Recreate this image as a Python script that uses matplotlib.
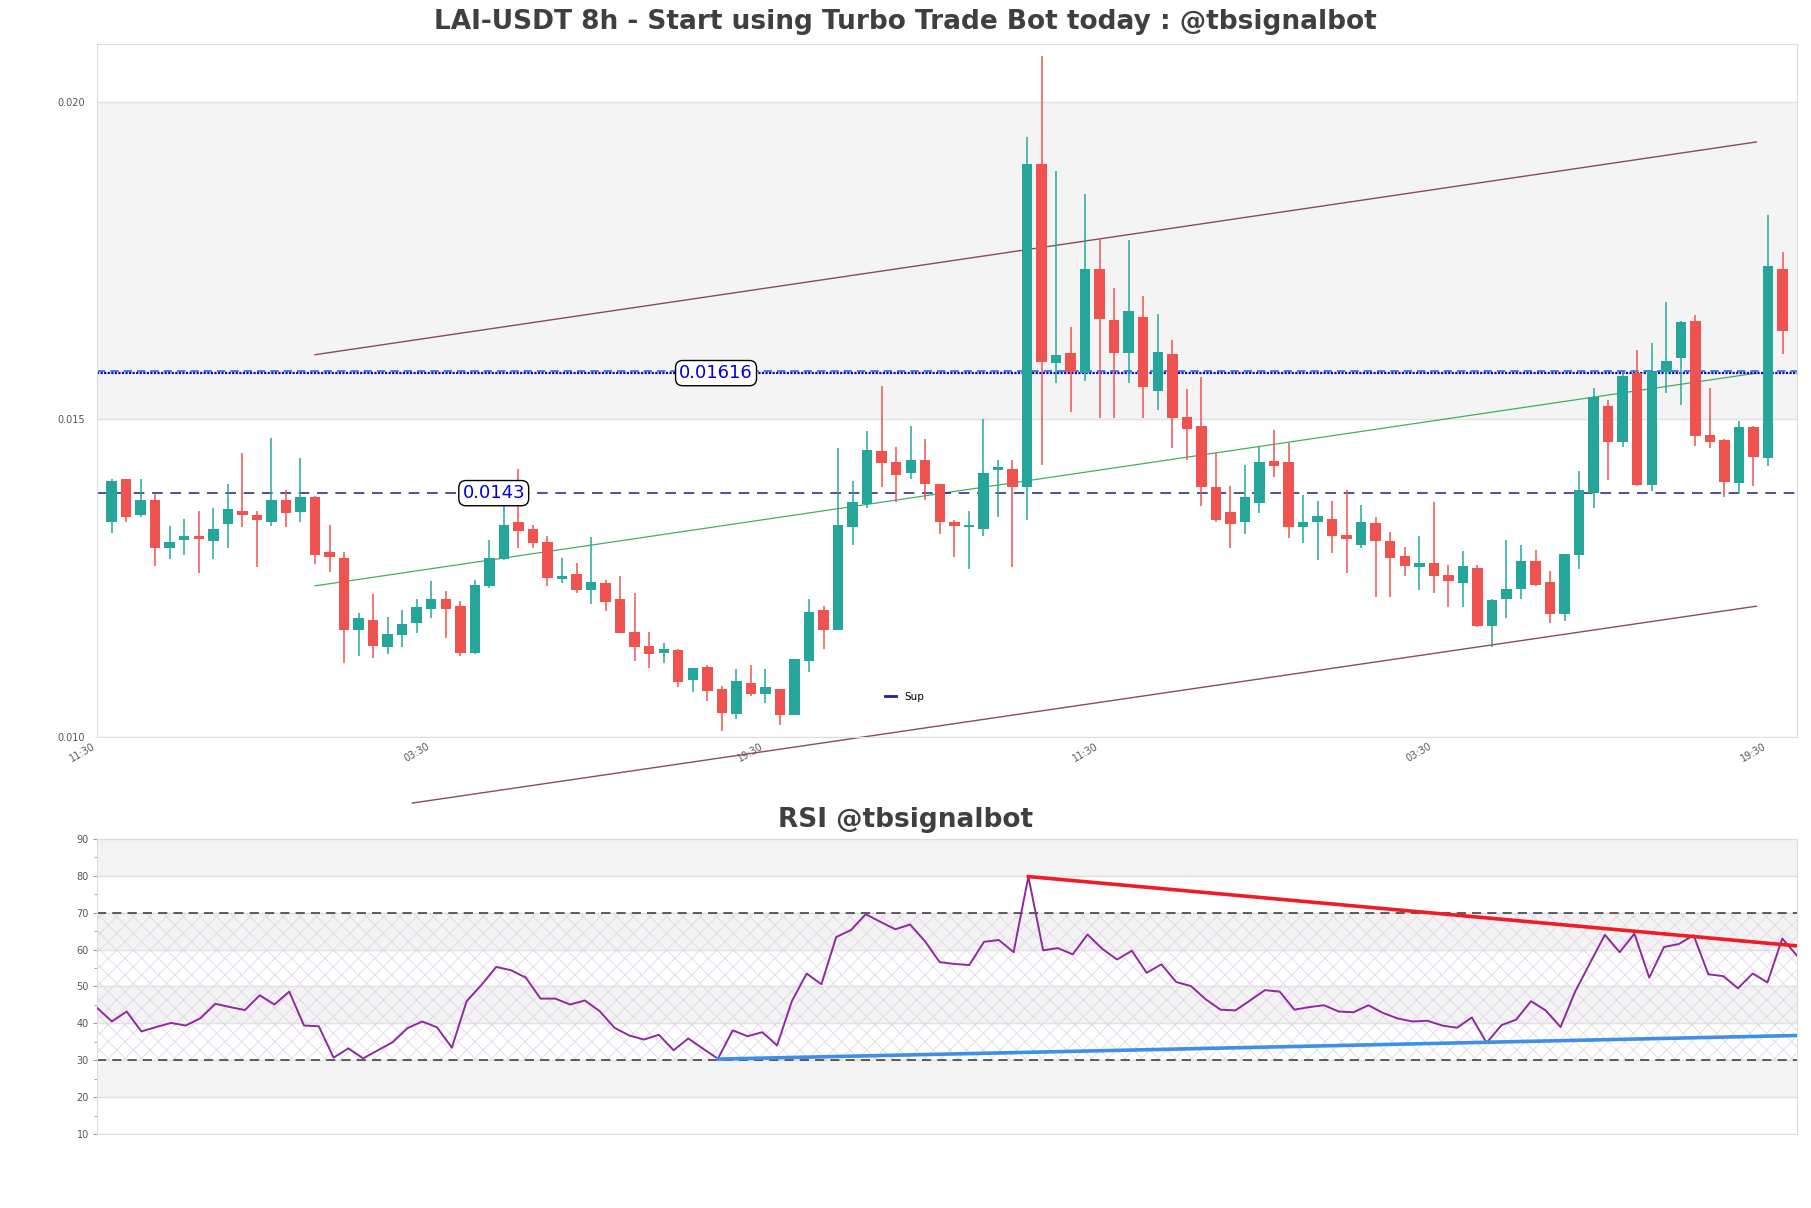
import matplotlib
matplotlib.use("Agg")
import matplotlib.pyplot as plt
import numpy as np

# LAI-USDT 8h candles
opens = [0.01339, 0.01406, 0.01350, 0.01373, 0.01298, 0.01311, 0.01315, 0.01309, 0.01336, 0.01356,
         0.01350, 0.01339, 0.01373, 0.01355, 0.01378, 0.01291, 0.01282, 0.01169, 0.01184, 0.01141,
         0.01161, 0.01180, 0.01202, 0.01217, 0.01206, 0.01133, 0.01238, 0.01281, 0.01339, 0.01328,
         0.01307, 0.01249, 0.01257, 0.01232, 0.01242, 0.01217, 0.01165, 0.01143, 0.01132, 0.01137,
         0.01090, 0.01110, 0.01076, 0.01037, 0.01085, 0.01067, 0.01076, 0.01035, 0.01120, 0.01200,
         0.01169, 0.01330, 0.01367, 0.01450, 0.01433, 0.01416, 0.01436, 0.01398, 0.01339, 0.01330,
         0.01328, 0.01421, 0.01422, 0.01394, 0.01902, 0.01589, 0.01605, 0.01573, 0.01737, 0.01657,
         0.01605, 0.01661, 0.01545, 0.01603, 0.01504, 0.01490, 0.01394, 0.01354, 0.01339, 0.01369,
         0.01434, 0.01433, 0.01331, 0.01339, 0.01343, 0.01318, 0.01303, 0.01337, 0.01309, 0.01285,
         0.01268, 0.01274, 0.01255, 0.01243, 0.01266, 0.01175, 0.01217, 0.01233, 0.01277, 0.01244,
         0.01193, 0.01287, 0.01385, 0.01521, 0.01464, 0.01573, 0.01397, 0.01575, 0.01597, 0.01655,
         0.01476, 0.01468, 0.01400, 0.01488, 0.01440, 0.01737]
highs = [0.01407, 0.01406, 0.01406, 0.01384, 0.01332, 0.01343, 0.01356, 0.01361, 0.01398, 0.01447,
         0.01356, 0.01471, 0.01389, 0.01439, 0.01380, 0.01334, 0.01292, 0.01196, 0.01225, 0.01189,
         0.01200, 0.01217, 0.01246, 0.01230, 0.01214, 0.01247, 0.01310, 0.01373, 0.01422, 0.01334,
         0.01316, 0.01282, 0.01274, 0.01315, 0.01247, 0.01254, 0.01227, 0.01165, 0.01148, 0.01139,
         0.01109, 0.01114, 0.01081, 0.01107, 0.01113, 0.01107, 0.01076, 0.01123, 0.01217, 0.01206,
         0.01455, 0.01403, 0.01482, 0.01552, 0.01457, 0.01490, 0.01469, 0.01398, 0.01342, 0.01356,
         0.01500, 0.01436, 0.01436, 0.01945, 0.02073, 0.01892, 0.01646, 0.01855, 0.01784, 0.01707,
         0.01783, 0.01695, 0.01666, 0.01625, 0.01548, 0.01567, 0.01447, 0.01395, 0.01428, 0.01456,
         0.01484, 0.01463, 0.01381, 0.01372, 0.01372, 0.01389, 0.01365, 0.01347, 0.01323, 0.01299,
         0.01317, 0.01370, 0.01271, 0.01293, 0.01271, 0.01217, 0.01310, 0.01302, 0.01295, 0.01261,
         0.01288, 0.01419, 0.01550, 0.01531, 0.01575, 0.01609, 0.01620, 0.01685, 0.01655, 0.01665,
         0.01550, 0.01470, 0.01498, 0.01490, 0.01822, 0.01764]
lows = [0.01321, 0.01339, 0.01347, 0.01270, 0.01281, 0.01287, 0.01259, 0.01281, 0.01298, 0.01330,
        0.01268, 0.01333, 0.01331, 0.01339, 0.01273, 0.01260, 0.01116, 0.01127, 0.01125, 0.01130,
        0.01142, 0.01164, 0.01187, 0.01156, 0.01128, 0.01130, 0.01235, 0.01279, 0.01297, 0.01298,
        0.01238, 0.01242, 0.01226, 0.01210, 0.01199, 0.01164, 0.01120, 0.01109, 0.01117, 0.01079,
        0.01071, 0.01056, 0.01010, 0.01029, 0.01064, 0.01054, 0.01019, 0.01035, 0.01103, 0.01139,
        0.01169, 0.01303, 0.01361, 0.01394, 0.01370, 0.01406, 0.01373, 0.01319, 0.01284, 0.01265,
        0.01317, 0.01346, 0.01268, 0.01342, 0.01429, 0.01558, 0.01512, 0.01561, 0.01502, 0.01502,
        0.01558, 0.01502, 0.01515, 0.01455, 0.01436, 0.01364, 0.01339, 0.01297, 0.01320, 0.01353,
        0.01410, 0.01314, 0.01306, 0.01279, 0.01290, 0.01259, 0.01298, 0.01221, 0.01221, 0.01253,
        0.01232, 0.01226, 0.01205, 0.01205, 0.01174, 0.01141, 0.01188, 0.01217, 0.01237, 0.01179,
        0.01183, 0.01265, 0.01361, 0.01405, 0.01457, 0.01395, 0.01388, 0.01542, 0.01523, 0.01458,
        0.01455, 0.01378, 0.01384, 0.01396, 0.01427, 0.01603]
closes = [0.01403, 0.01347, 0.01373, 0.01298, 0.01307, 0.01317, 0.01312, 0.01328, 0.01359, 0.01349,
          0.01341, 0.01373, 0.01352, 0.01378, 0.01286, 0.01284, 0.01169, 0.01187, 0.01144, 0.01162,
          0.01178, 0.01205, 0.01217, 0.01201, 0.01133, 0.01240, 0.01282, 0.01334, 0.01325, 0.01306,
          0.01251, 0.01253, 0.01232, 0.01244, 0.01213, 0.01164, 0.01142, 0.01130, 0.01138, 0.01086,
          0.01109, 0.01073, 0.01038, 0.01088, 0.01068, 0.01078, 0.01034, 0.01123, 0.01197, 0.01168,
          0.01334, 0.01370, 0.01452, 0.01431, 0.01413, 0.01436, 0.01399, 0.01339, 0.01333, 0.01334,
          0.01416, 0.01422, 0.01393, 0.01902, 0.01591, 0.01602, 0.01575, 0.01737, 0.01658, 0.01605,
          0.01671, 0.01551, 0.01606, 0.01503, 0.01485, 0.01394, 0.01341, 0.01336, 0.01378, 0.01433,
          0.01427, 0.01330, 0.01338, 0.01348, 0.01317, 0.01312, 0.01339, 0.01308, 0.01282, 0.01270,
          0.01274, 0.01254, 0.01246, 0.01270, 0.01175, 0.01216, 0.01233, 0.01277, 0.01240, 0.01193,
          0.01288, 0.01389, 0.01535, 0.01464, 0.01569, 0.01397, 0.01576, 0.01592, 0.01654, 0.01474,
          0.01465, 0.01402, 0.01488, 0.01441, 0.01742, 0.01639]

rsi = [44.2, 40.5, 43.2, 37.8, 39.0, 40.1, 39.4, 41.4, 45.3, 44.4,
       43.6, 47.6, 45.1, 48.6, 39.4, 39.2, 30.7, 33.2, 30.5, 32.7,
       34.9, 38.7, 40.5, 38.9, 33.4, 46.0, 50.4, 55.3, 54.4, 52.4,
       46.7, 46.7, 45.1, 46.2, 43.3, 38.8, 36.7, 35.6, 36.9, 32.7,
       35.9, 33.1, 30.4, 38.1, 36.5, 37.6, 34.0, 46.0, 53.5, 50.6,
       63.4, 65.3, 69.6, 67.5, 65.5, 66.8, 62.3, 56.6, 56.1, 55.8,
       62.1, 62.6, 59.3, 79.8, 59.8, 60.4, 58.7, 64.1, 60.2, 57.3,
       59.7, 53.7, 56.0, 51.2, 50.1, 46.5, 43.7, 43.5, 46.2, 49.0,
       48.6, 43.7, 44.4, 44.9, 43.2, 43.0, 44.9, 42.8, 41.3, 40.5,
       40.7, 39.4, 38.8, 41.6, 34.7, 39.5, 41.0, 46.0, 43.5, 39.0,
       48.7, 56.4, 64.0, 59.3, 64.3, 52.4, 60.7, 61.5, 63.9, 53.3,
       52.8, 49.5, 53.5, 51.1, 63.0, 58.3]

tick_pos = [-1, 22, 45, 68, 91, 114]
tick_labels = ["11:30", "03:30", "19:30", "11:30", "03:30", "19:30"]

# channel lines (x in candle index, y in price)
chan_up_x = [14, 113.2]
chan_up_y = [0.01602, 0.01937]
chan_mid_x = [14, 113.2]
chan_mid_y = [0.01238, 0.01573]
chan_low_x = [20.7, 113.2]
chan_low_y = [0.00896, 0.01206]

res_level = 0.01573
sup_level = 0.01384

# rsi trend lines
rsi_res_x = [63, 115]
rsi_res_y = [79.8, 61.0]
rsi_sup_x = [42, 115]
rsi_sup_y = [30.3, 36.7]

GREEN = "#26a69a"
RED = "#ef5350"
TXT = "#555555"
SPINE = "#dddddd"

fig = plt.figure(figsize=(18.11, 12.08), dpi=100)
ax = fig.add_axes([0.0536, 0.3899, 0.9387, 0.5737])
ax2 = fig.add_axes([0.0536, 0.0613, 0.9387, 0.2442])

x = np.arange(len(opens))
o = np.array(opens)
c = np.array(closes)
h = np.array(highs)
l = np.array(lows)
up = c >= o
cols = np.where(up, GREEN, RED)

ax.axhspan(0.015, 0.020, color="#f4f4f4", zorder=0)
for yv in [0.010, 0.015, 0.020]:
    ax.axhline(yv, color="#e2e2e2", lw=1, zorder=0.5)

ax.vlines(x, l, h, colors=cols, lw=1.1, zorder=3)
body_b = np.minimum(o, c)
body_h = np.maximum(np.abs(c - o), 0.00004)
ax.bar(x, body_h, bottom=body_b, width=0.72, color=cols, zorder=4)

ax.plot(chan_up_x, chan_up_y, color="#8a4a5c", lw=1, zorder=2)
ax.plot(chan_mid_x, chan_mid_y, color="#45ad62", lw=0.9, zorder=2)
ax.plot(chan_low_x, chan_low_y, color="#8a4a5c", lw=1, zorder=2, clip_on=False)

ax.axhline(res_level + 0.00004, color="#2a6cf0", lw=1.2, ls=(0, (5, 3)), zorder=2)
ax.axhline(res_level, color="#0a0ab0", lw=1.6, ls=(0, (1, 0.6)), zorder=2)
ax.axhline(sup_level, color="#1c1c96", lw=1.1, ls=(0, (7, 5)), zorder=2, label="Sup")

box = dict(boxstyle="round,pad=0.2,rounding_size=0.4", fc="white", ec="black", lw=1)
ax.text(41.6, res_level, "0.01616", color="#0000dd", fontsize=13, ha="center", va="center", bbox=box, zorder=6)
ax.text(26.3, sup_level, "0.0143", color="#0000dd", fontsize=13, ha="center", va="center", bbox=box, zorder=6)

leg = ax.legend(loc="center left", bbox_to_anchor=(0.461, 0.058), frameon=False, fontsize=7.5,
                handlelength=1.05, handletextpad=0.8, borderaxespad=0)
for ln in leg.get_lines():
    ln.set_linestyle("-")
    ln.set_linewidth(2)

ax.set_xlim(-1, 116)
ax.set_ylim(0.010, 0.020913)
ax.set_yticks([0.010, 0.015, 0.020])
ax.set_yticklabels(["0.010", "0.015", "0.020"])
ax.set_xticks(tick_pos)
ax.set_xticklabels(tick_labels, rotation=30, ha="right")
ax.tick_params(axis="y", length=0, pad=9, labelsize=7, labelcolor=TXT)
ax.tick_params(axis="x", length=0, pad=3, labelsize=7, labelcolor=TXT)
for s in ax.spines.values():
    s.set_color(SPINE)

# RSI panel
plt.rcParams["hatch.linewidth"] = 0.6
for a, b in [(20, 30), (40, 50), (60, 70), (80, 90)]:
    ax2.axhspan(a, b, color="#f3f3f3", zorder=0)
ax2.fill_between([0, 115], 30, 70, facecolor="none", edgecolor="#e2d6e8", hatch="xx", lw=0, zorder=0.6)
for yv in range(10, 91, 10):
    ax2.axhline(yv, color="#e2e2e2", lw=1, zorder=0.5)
ax2.axhline(30, color="#333333", lw=1.1, ls=(0, (6, 4)), zorder=2)
ax2.axhline(70, color="#333333", lw=1.1, ls=(0, (6, 4)), zorder=2)
ax2.plot(np.arange(len(rsi)), rsi, color="#8e2a9e", lw=1.4, zorder=3)
ax2.plot(rsi_res_x, rsi_res_y, color="#ee1c24", lw=2.6, zorder=4)
ax2.plot(rsi_sup_x, rsi_sup_y, color="#3d8fe8", lw=2.6, zorder=4)
ax2.set_xlim(0, 115)
ax2.set_ylim(10, 90)
ax2.set_yticks(range(10, 91, 10))
ax2.set_yticks(range(15, 90, 10), minor=True)
ax2.set_xticks([])
ax2.tick_params(axis="y", which="major", length=3, color="#999999", pad=3, labelsize=7, labelcolor=TXT)
ax2.tick_params(axis="y", which="minor", length=2, color="#999999")
for s in ax2.spines.values():
    s.set_color(SPINE)

fig.text(0.5, 1 - 22 / 1208, "LAI-USDT 8h - Start using Turbo Trade Bot today : @tbsignalbot",
         ha="center", va="center", fontsize=19, fontweight="bold", color="#3f3f3f")
fig.text(0.5, 1 - 820 / 1208, "RSI @tbsignalbot",
         ha="center", va="center", fontsize=19, fontweight="bold", color="#3f3f3f")

fig.savefig("out.png", dpi=100)
